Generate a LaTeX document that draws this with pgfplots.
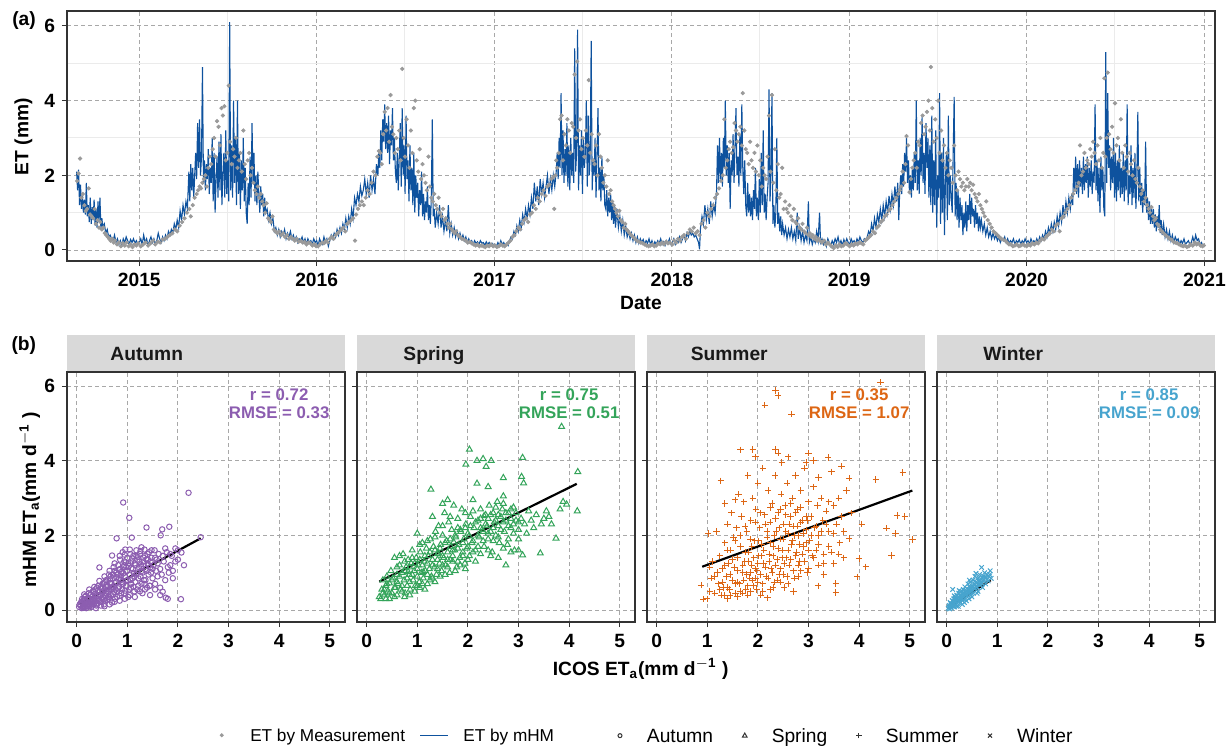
\documentclass[border=0pt]{standalone}
\usepackage{fontspec}
\setmainfont{Liberation Sans}
\usepackage{pgfplots}
\usepackage{pgfplotstable}
\pgfplotsset{compat=1.18}
\definecolor{mgrey}{HTML}{9A9A9A}
\definecolor{mhmblue}{HTML}{0E529E}
\definecolor{autumn}{HTML}{8C5DB0}
\definecolor{spring}{HTML}{34A45A}
\definecolor{summer}{HTML}{DD6614}
\definecolor{winter}{HTML}{47A4CE}
\definecolor{stripgrey}{HTML}{D9D9D9}
\definecolor{gridgrey}{HTML}{A8A8A8}
\definecolor{minorgrey}{HTML}{EBEBEB}
\definecolor{framegrey}{HTML}{333333}

% mHM simulated ET, x = days since 2015-01-01
\pgfplotstableread[row sep=\\]{
d v\\
-129 2.10\\ -127 1.60\\ -125 2.15\\ -123 1.20\\ -121 1.75\\ -119 1.10\\ -117 1.45\\ -115 1.00\\ -113 1.35\\ -111 0.95\\
-109 1.80\\ -107 0.90\\ -105 1.20\\ -103 0.75\\ -101 1.40\\ -99 0.70\\ -97 1.15\\ -95 0.80\\ -93 1.35\\ -91 0.65\\
-89 1.10\\ -87 0.60\\ -85 1.30\\ -83 0.75\\ -81 1.40\\ -79 0.55\\ -77 0.85\\ -75 0.60\\ -72 0.70\\ -69 0.45\\
-66 0.55\\ -63 0.35\\ -60 0.40\\ -57 0.30\\ -54 0.25\\ -51 0.40\\ -48 0.20\\ -45 0.30\\ -42 0.15\\ -39 0.25\\
-36 0.12\\ -33 0.30\\ -30 0.20\\ -27 0.35\\ -24 0.25\\ -21 0.15\\ -18 0.28\\ -15 0.20\\ -12 0.30\\ -9 0.18\\ -6 0.25\\ -3 0.15\\ 0 0.20\\
3 0.30\\ 6 0.15\\ 9 0.40\\ 12 0.20\\ 15 0.30\\ 18 0.12\\ 21 0.25\\ 24 0.35\\ 27 0.20\\ 30 0.30\\ 33 0.15\\ 36 0.25\\
39 0.45\\ 42 0.30\\ 45 0.20\\ 48 0.35\\ 51 0.25\\ 54 0.40\\ 57 0.30\\ 60 0.50\\ 63 0.40\\ 66 0.55\\ 69 0.45\\ 72 0.70\\
75 0.55\\ 78 0.80\\ 81 0.60\\ 84 1.05\\ 87 0.80\\ 90 1.20\\ 93 0.95\\ 96 1.30\\ 99 1.10\\ 102 2.10\\ 104 1.30\\ 106 2.30\\
108 1.60\\ 110 2.20\\ 112 1.40\\ 114 2.00\\ 116 2.60\\ 118 1.90\\ 120 3.40\\ 122 2.20\\ 124 3.50\\ 126 2.00\\ 128 2.50\\
130 4.90\\ 132 1.80\\ 134 2.40\\ 136 1.60\\ 138 2.30\\ 140 1.90\\ 142 2.70\\ 144 1.50\\ 146 2.20\\ 148 1.80\\ 150 3.00\\
152 1.30\\ 154 2.60\\ 156 1.00\\ 158 1.90\\ 160 2.50\\ 162 1.40\\ 164 2.90\\ 166 1.60\\ 168 3.10\\ 170 1.20\\ 172 2.00\\
174 2.60\\ 176 1.40\\ 178 3.20\\ 180 1.50\\ 182 2.40\\ 184 1.30\\ 186 6.10\\ 188 1.60\\ 190 2.80\\ 192 1.40\\ 194 4.00\\
196 1.80\\ 198 3.00\\ 200 1.20\\ 202 4.00\\ 204 1.50\\ 206 2.60\\ 208 1.10\\ 210 2.40\\ 212 1.60\\ 214 3.00\\ 216 1.30\\
218 2.20\\ 220 1.00\\ 222 0.70\\ 224 1.80\\ 226 1.20\\ 228 2.50\\ 230 1.40\\ 232 3.40\\ 234 1.80\\ 236 2.60\\ 238 1.30\\
240 2.00\\ 242 1.20\\ 244 2.10\\ 246 1.50\\ 248 1.00\\ 250 1.70\\ 252 1.20\\ 254 1.50\\ 256 0.90\\ 258 1.40\\ 260 1.00\\
263 1.10\\ 266 0.80\\ 269 1.00\\ 272 0.70\\ 275 0.85\\ 278 0.50\\ 281 0.60\\ 284 0.40\\ 287 0.55\\ 290 0.35\\ 293 0.50\\
296 0.40\\ 299 0.55\\ 302 0.30\\ 305 0.45\\ 308 0.35\\ 311 0.50\\ 314 0.30\\ 317 0.40\\ 320 0.25\\ 323 0.35\\ 326 0.20\\
329 0.30\\ 332 0.25\\ 335 0.35\\ 338 0.20\\ 341 0.30\\ 344 0.15\\ 347 0.30\\ 350 0.20\\ 353 0.25\\ 356 0.15\\ 359 0.30\\ 362 0.20\\ 365 0.25\\
368 0.10\\ 371 0.30\\ 374 0.20\\ 377 0.15\\ 380 0.35\\ 383 0.20\\ 386 0.30\\ 389 0.10\\ 392 0.25\\ 395 0.40\\ 398 0.30\\
401 0.45\\ 404 0.35\\ 407 0.55\\ 410 0.40\\ 413 0.60\\ 416 0.45\\ 419 0.70\\ 422 0.55\\ 425 0.85\\ 428 0.60\\ 431 0.90\\
434 0.70\\ 437 1.10\\ 440 0.85\\ 443 1.40\\ 446 1.20\\ 449 1.50\\ 452 1.30\\ 455 1.70\\ 458 1.45\\ 461 1.60\\ 464 1.90\\
467 1.50\\ 470 1.80\\ 473 1.40\\ 476 2.00\\ 479 1.60\\ 482 1.90\\ 485 1.50\\ 488 2.30\\ 491 2.00\\ 493 2.60\\ 495 2.20\\
497 3.20\\ 499 2.40\\ 501 3.50\\ 503 2.90\\ 505 3.90\\ 507 2.70\\ 509 3.40\\ 511 2.60\\ 513 3.60\\ 515 2.30\\ 517 3.20\\
519 2.80\\ 521 3.80\\ 523 2.40\\ 525 3.00\\ 527 2.10\\ 529 1.80\\ 531 2.60\\ 533 1.60\\ 535 2.50\\ 537 3.40\\ 539 1.70\\
541 3.80\\ 543 2.00\\ 545 2.80\\ 547 1.50\\ 549 3.60\\ 551 1.90\\ 553 2.40\\ 555 1.30\\ 557 2.80\\ 559 1.60\\ 561 2.20\\
563 1.20\\ 565 2.60\\ 567 1.00\\ 569 2.00\\ 571 1.40\\ 573 1.80\\ 575 0.90\\ 577 1.60\\ 579 1.20\\ 581 2.10\\ 583 0.90\\
585 1.50\\ 587 0.80\\ 589 1.30\\ 591 1.00\\ 593 1.70\\ 595 0.80\\ 597 1.20\\ 599 0.70\\ 601 1.40\\ 603 3.50\\ 605 0.90\\
607 1.10\\ 609 0.60\\ 612 1.00\\ 615 0.70\\ 618 1.20\\ 621 0.60\\ 624 0.90\\ 627 0.50\\ 630 0.80\\ 633 0.50\\ 636 1.20\\
639 0.45\\ 642 0.70\\ 645 0.40\\ 648 0.60\\ 651 0.35\\ 654 0.50\\ 657 0.30\\ 660 0.45\\ 663 0.30\\ 666 0.40\\ 669 0.25\\
672 0.35\\ 675 0.20\\ 678 0.30\\ 681 0.20\\ 684 0.25\\ 687 0.15\\ 690 0.25\\ 693 0.18\\ 696 0.22\\ 699 0.15\\ 702 0.25\\
705 0.18\\ 708 0.20\\ 711 0.12\\ 714 0.22\\ 717 0.15\\ 720 0.20\\ 723 0.12\\ 726 0.18\\ 729 0.14\\
732 0.15\\ 735 0.10\\ 738 0.20\\ 741 0.12\\ 744 0.25\\ 747 0.15\\ 750 0.20\\ 753 0.10\\ 756 0.18\\ 759 0.12\\ 762 0.25\\
765 0.35\\ 768 0.30\\ 771 0.50\\ 774 0.40\\ 777 0.65\\ 780 0.50\\ 783 0.80\\ 786 0.60\\ 789 0.95\\ 792 0.75\\ 795 1.10\\
798 0.85\\ 801 1.20\\ 804 0.95\\ 807 1.40\\ 810 1.10\\ 813 1.80\\ 816 1.30\\ 819 1.70\\ 822 1.20\\ 825 1.90\\ 828 1.50\\
831 1.80\\ 834 1.40\\ 837 1.70\\ 840 2.00\\ 843 1.50\\ 846 1.90\\ 849 1.60\\ 852 2.00\\ 855 1.70\\ 858 2.10\\ 860 2.60\\
862 1.90\\ 864 3.00\\ 866 2.20\\ 868 4.20\\ 870 2.00\\ 872 3.20\\ 874 1.80\\ 876 2.70\\ 878 2.00\\ 880 3.40\\ 882 1.70\\
884 2.80\\ 886 1.60\\ 888 3.00\\ 890 2.00\\ 892 2.60\\ 894 1.80\\ 896 5.40\\ 898 2.10\\ 900 2.60\\ 902 5.90\\ 904 1.60\\
906 2.80\\ 908 2.00\\ 910 3.20\\ 912 1.50\\ 914 3.00\\ 916 2.20\\ 918 2.60\\ 920 4.00\\ 922 1.70\\ 924 3.60\\ 926 2.00\\
928 2.60\\ 930 5.60\\ 932 1.60\\ 934 2.40\\ 936 2.00\\ 938 3.00\\ 940 1.40\\ 942 2.60\\ 944 3.80\\ 946 1.60\\ 948 2.20\\
950 1.30\\ 952 2.50\\ 954 1.60\\ 956 2.00\\ 958 1.20\\ 960 1.10\\ 962 1.60\\ 964 0.90\\ 966 1.40\\ 968 1.00\\ 970 1.50\\
972 0.80\\ 974 1.30\\ 976 0.70\\ 978 1.20\\ 980 0.60\\ 983 1.10\\ 986 0.60\\ 989 0.90\\ 992 0.50\\ 995 0.80\\ 998 0.40\\
1001 0.65\\ 1004 0.35\\ 1007 0.50\\ 1010 0.30\\ 1013 0.45\\ 1016 0.25\\ 1019 0.40\\ 1022 0.20\\ 1025 0.35\\ 1028 0.18\\
1031 0.30\\ 1034 0.20\\ 1037 0.28\\ 1040 0.15\\ 1043 0.25\\ 1046 0.18\\ 1049 0.30\\ 1052 0.15\\ 1055 0.25\\ 1058 0.12\\
1061 0.22\\ 1064 0.15\\ 1067 0.25\\ 1070 0.18\\ 1073 0.30\\ 1076 0.15\\ 1079 0.22\\ 1082 0.12\\ 1085 0.25\\ 1088 0.18\\ 1091 0.30\\ 1094 0.15\\
1097 0.20\\ 1100 0.30\\ 1103 0.15\\ 1106 0.25\\ 1109 0.20\\ 1112 0.35\\ 1115 0.20\\ 1118 0.30\\ 1121 0.40\\ 1124 0.25\\
1127 0.45\\ 1130 0.35\\ 1133 0.50\\ 1136 0.40\\ 1139 0.45\\ 1142 0.35\\ 1145 0.40\\ 1148 0.30\\ 1151 0.20\\ 1153 0.02\\
1155 0.60\\ 1158 0.90\\ 1161 0.70\\ 1164 1.20\\ 1167 0.80\\ 1170 1.10\\ 1173 0.70\\ 1176 1.30\\ 1179 0.90\\ 1182 1.20\\
1185 1.00\\ 1188 1.60\\ 1190 2.80\\ 1192 1.80\\ 1194 3.00\\ 1196 1.90\\ 1198 2.60\\ 1200 1.70\\ 1202 3.00\\ 1204 2.20\\
1206 4.00\\ 1208 2.00\\ 1210 2.80\\ 1212 1.80\\ 1214 2.60\\ 1216 1.10\\ 1218 2.40\\ 1220 2.00\\ 1222 3.10\\ 1224 1.80\\
1226 2.80\\ 1228 3.80\\ 1230 2.00\\ 1232 2.50\\ 1234 1.70\\ 1236 3.10\\ 1238 2.00\\ 1240 3.90\\ 1242 2.20\\ 1244 1.50\\
1246 2.40\\ 1248 1.20\\ 1250 0.90\\ 1252 1.80\\ 1254 1.00\\ 1256 1.50\\ 1258 0.90\\ 1260 1.40\\ 1262 0.80\\ 1264 1.60\\
1266 1.10\\ 1268 2.20\\ 1270 0.90\\ 1272 1.40\\ 1274 0.80\\ 1276 1.90\\ 1278 1.00\\ 1280 2.60\\ 1282 1.20\\ 1284 3.20\\
1286 1.00\\ 1288 1.50\\ 1290 0.80\\ 1292 1.40\\ 1294 1.80\\ 1296 4.30\\ 1298 1.30\\ 1300 2.00\\ 1302 4.20\\ 1304 0.70\\
1306 1.20\\ 1308 0.60\\ 1310 1.00\\ 1312 3.00\\ 1314 0.70\\ 1316 1.00\\ 1318 0.50\\ 1320 0.90\\ 1322 0.40\\ 1324 0.70\\
1327 0.40\\ 1330 0.60\\ 1333 0.30\\ 1336 0.55\\ 1339 0.35\\ 1342 0.60\\ 1345 0.30\\ 1348 0.50\\ 1351 0.25\\ 1354 1.00\\
1356 0.30\\ 1359 0.60\\ 1362 0.25\\ 1365 0.50\\ 1368 0.20\\ 1371 0.40\\ 1374 0.25\\ 1377 1.30\\ 1379 0.20\\ 1382 0.35\\
1385 0.15\\ 1388 0.30\\ 1391 0.20\\ 1394 0.50\\ 1397 0.25\\ 1400 1.00\\ 1402 0.20\\ 1405 0.30\\ 1408 0.15\\ 1411 0.25\\
1414 0.10\\ 1417 0.30\\ 1420 0.20\\ 1423 0.10\\ 1426 0.25\\ 1429 0.15\\ 1432 0.30\\ 1435 0.20\\ 1438 0.35\\ 1441 0.15\\
1444 0.25\\ 1447 0.12\\ 1450 0.28\\ 1453 0.18\\ 1456 0.30\\ 1459 0.20\\
1462 0.15\\ 1465 0.30\\ 1468 0.20\\ 1471 0.25\\ 1474 0.15\\ 1477 0.30\\ 1480 0.20\\ 1483 0.35\\ 1486 0.25\\ 1489 0.20\\
1492 0.30\\ 1495 0.25\\ 1498 0.35\\ 1501 0.50\\ 1504 0.40\\ 1507 0.70\\ 1510 0.50\\ 1513 0.85\\ 1516 0.60\\ 1519 0.95\\
1522 0.75\\ 1525 1.10\\ 1528 0.80\\ 1531 1.20\\ 1534 0.90\\ 1537 1.30\\ 1540 1.00\\ 1543 1.45\\ 1546 1.10\\ 1549 1.50\\
1552 1.20\\ 1555 1.70\\ 1558 1.30\\ 1561 1.80\\ 1563 0.80\\ 1565 1.60\\ 1567 2.00\\ 1569 1.50\\ 1571 2.30\\ 1573 1.70\\
1575 2.60\\ 1577 2.10\\ 1579 3.00\\ 1581 1.80\\ 1583 2.40\\ 1585 1.50\\ 1587 2.00\\ 1589 1.40\\ 1591 2.20\\ 1593 1.60\\
1595 2.60\\ 1597 1.80\\ 1599 4.00\\ 1601 1.60\\ 1603 2.40\\ 1605 1.50\\ 1607 3.00\\ 1609 2.00\\ 1611 3.60\\ 1613 1.80\\
1615 2.60\\ 1617 1.50\\ 1619 3.40\\ 1621 2.20\\ 1623 3.00\\ 1625 1.40\\ 1627 2.80\\ 1629 1.20\\ 1631 3.60\\ 1633 1.00\\
1635 2.40\\ 1637 1.20\\ 1639 3.20\\ 1641 0.60\\ 1643 2.00\\ 1645 1.40\\ 1647 4.20\\ 1649 0.70\\ 1651 2.60\\ 1653 1.00\\
1655 3.00\\ 1657 0.40\\ 1659 1.80\\ 1661 2.60\\ 1663 0.80\\ 1665 3.60\\ 1667 1.20\\ 1669 2.00\\ 1671 1.40\\ 1673 1.00\\
1675 2.60\\ 1677 4.10\\ 1679 0.90\\ 1681 1.80\\ 1683 0.80\\ 1685 1.60\\ 1687 0.60\\ 1689 1.40\\ 1691 0.80\\ 1693 1.20\\
1695 0.40\\ 1697 1.00\\ 1699 0.60\\ 1701 1.30\\ 1703 0.50\\ 1705 1.20\\ 1707 0.80\\ 1709 1.50\\ 1711 0.70\\ 1713 1.40\\
1715 0.90\\ 1717 1.10\\ 1719 0.60\\ 1721 1.20\\ 1723 0.70\\ 1725 1.00\\ 1727 0.50\\ 1729 0.90\\ 1731 0.60\\ 1733 0.80\\
1736 0.50\\ 1739 0.70\\ 1742 0.40\\ 1745 0.60\\ 1748 0.35\\ 1751 0.50\\ 1754 0.30\\ 1757 0.45\\ 1760 0.30\\ 1763 0.40\\
1766 0.25\\ 1769 0.35\\ 1772 0.20\\ 1775 0.30\\ 1778 0.25\\ 1781 0.35\\ 1784 0.20\\ 1787 0.30\\ 1790 0.18\\ 1793 0.25\\
1796 0.20\\ 1799 0.30\\ 1802 0.15\\ 1805 0.25\\ 1808 0.20\\ 1811 0.28\\ 1814 0.15\\ 1817 0.25\\ 1820 0.18\\ 1823 0.30\\
1826 0.20\\ 1829 0.25\\ 1832 0.15\\ 1835 0.30\\ 1838 0.20\\ 1841 0.25\\ 1844 0.18\\ 1847 0.30\\ 1850 0.20\\ 1853 0.35\\
1856 0.25\\ 1859 0.40\\ 1862 0.30\\ 1865 0.50\\ 1868 0.35\\ 1871 0.60\\ 1874 0.45\\ 1877 0.70\\ 1880 0.50\\ 1883 0.75\\
1886 0.55\\ 1889 0.90\\ 1892 0.65\\ 1895 1.00\\ 1898 0.75\\ 1901 1.20\\ 1904 0.85\\ 1907 1.30\\ 1910 1.00\\ 1913 1.40\\
1916 1.10\\ 1919 1.50\\ 1921 1.20\\ 1923 2.20\\ 1925 1.60\\ 1927 2.50\\ 1929 1.50\\ 1931 2.30\\ 1933 1.40\\ 1935 2.40\\
1937 1.70\\ 1939 2.20\\ 1941 1.50\\ 1943 2.50\\ 1945 1.60\\ 1947 2.30\\ 1949 1.80\\ 1951 2.50\\ 1953 1.40\\ 1955 2.20\\
1957 1.70\\ 1959 2.40\\ 1961 1.50\\ 1963 2.10\\ 1965 1.80\\ 1967 3.90\\ 1969 1.60\\ 1971 2.40\\ 1973 1.30\\ 1975 2.20\\
1977 1.00\\ 1979 2.50\\ 1981 1.60\\ 1983 2.20\\ 1985 1.10\\ 1987 0.90\\ 1989 5.30\\ 1991 1.80\\ 1993 4.20\\ 1995 2.20\\
1997 2.80\\ 1999 1.60\\ 2001 2.50\\ 2003 1.80\\ 2005 3.00\\ 2007 1.40\\ 2009 2.60\\ 2011 1.30\\ 2013 2.40\\ 2015 1.60\\
2017 2.80\\ 2019 1.40\\ 2021 2.20\\ 2023 1.50\\ 2025 2.60\\ 2027 1.30\\ 2029 2.40\\ 2031 1.60\\ 2033 3.90\\ 2035 1.20\\
2037 2.00\\ 2039 1.50\\ 2041 2.80\\ 2043 1.20\\ 2045 2.20\\ 2047 1.40\\ 2049 2.60\\ 2051 1.10\\ 2053 2.00\\ 2055 3.70\\
2057 1.30\\ 2059 2.20\\ 2061 1.20\\ 2063 1.80\\ 2065 1.00\\ 2067 1.60\\ 2069 1.20\\ 2071 2.90\\ 2073 1.00\\ 2075 1.40\\
2077 0.80\\ 2079 1.30\\ 2081 0.70\\ 2083 1.10\\ 2085 0.70\\ 2087 1.10\\ 2089 0.60\\ 2091 0.95\\ 2093 0.50\\ 2095 0.90\\
2097 0.60\\ 2099 1.20\\ 2101 0.45\\ 2103 0.80\\ 2105 0.40\\ 2108 0.70\\ 2111 0.35\\ 2114 0.55\\ 2117 0.30\\ 2120 0.50\\
2123 0.25\\ 2126 0.40\\ 2129 0.20\\ 2132 0.35\\ 2135 0.25\\ 2138 0.30\\ 2141 0.15\\ 2144 0.25\\ 2147 0.18\\ 2150 0.30\\
2153 0.15\\ 2156 0.20\\ 2159 0.25\\ 2162 0.15\\ 2165 0.20\\ 2168 0.35\\ 2171 0.20\\ 2174 0.40\\ 2177 0.25\\ 2180 0.30\\
2183 0.15\\ 2186 0.20\\ 2189 0.10\\ 2191 0.15\\
}\mhmtab

% measured ET
\pgfplotstableread[row sep=\\]{
d v\\
-128 1.85\\ -125 2.05\\ -122 2.45\\ -119 1.40\\ -116 1.50\\ -113 1.20\\ -110 1.05\\ -107 1.10\\ -104 1.65\\ -101 0.95\\
-98 0.90\\ -95 0.85\\ -92 1.10\\ -89 0.70\\ -86 0.80\\ -83 0.60\\ -80 0.75\\ -77 0.55\\ -74 0.60\\ -71 0.45\\ -68 0.40\\
-65 0.35\\ -62 0.30\\ -59 0.25\\ -56 0.30\\ -53 0.20\\ -50 0.25\\ -46 0.15\\ -42 0.20\\ -38 0.10\\ -34 0.18\\ -30 0.12\\
-26 0.20\\ -22 0.10\\ -18 0.15\\ -14 0.08\\ -10 0.15\\ -6 0.12\\ -2 0.18\\
3 0.10\\ 8 0.15\\ 13 0.20\\ 18 0.12\\ 23 0.18\\ 28 0.25\\ 33 0.15\\ 38 0.22\\ 43 0.20\\ 48 0.28\\ 53 0.30\\ 58 0.35\\
63 0.40\\ 68 0.45\\ 73 0.55\\ 78 0.50\\ 83 0.65\\ 88 0.75\\ 93 0.85\\ 98 1.00\\ 103 1.10\\ 106 0.90\\ 110 1.20\\ 114 1.40\\
118 1.50\\ 121 1.60\\ 124 1.70\\ 127 1.65\\ 130 1.80\\ 133 1.90\\ 136 2.00\\ 139 1.70\\ 142 2.20\\ 145 2.50\\ 148 2.30\\
151 2.70\\ 154 3.00\\ 157 2.50\\ 160 3.45\\ 163 3.30\\ 166 2.80\\ 169 3.80\\ 172 3.60\\ 175 3.85\\ 178 2.40\\ 181 2.60\\
184 4.40\\ 187 2.90\\ 190 2.30\\ 193 2.70\\ 196 2.50\\ 199 3.00\\ 202 2.20\\ 205 2.40\\ 208 2.60\\ 211 2.10\\ 214 3.20\\
217 2.30\\ 220 1.90\\ 223 2.40\\ 226 2.60\\ 229 2.00\\ 232 2.20\\ 235 1.80\\ 238 1.60\\ 241 1.50\\ 244 1.70\\ 247 1.40\\
250 1.50\\ 253 1.30\\ 256 1.20\\ 259 1.00\\ 262 1.25\\ 265 0.85\\ 268 0.80\\ 271 0.75\\ 274 0.90\\ 277 0.55\\ 280 0.50\\
284 0.45\\ 288 0.50\\ 292 0.40\\ 296 0.45\\ 300 0.35\\ 304 0.40\\ 308 0.30\\ 312 0.35\\ 316 0.30\\ 320 0.25\\ 324 0.30\\
328 0.22\\ 332 0.25\\ 336 0.20\\ 340 0.22\\ 344 0.15\\ 348 0.20\\ 352 0.18\\ 356 0.12\\ 360 0.15\\ 364 0.10\\
368 0.10\\ 372 0.15\\ 376 0.20\\ 380 0.18\\ 384 0.25\\ 388 0.20\\ 392 0.30\\ 396 0.35\\ 400 0.30\\ 404 0.40\\ 408 0.45\\
412 0.50\\ 416 0.55\\ 420 0.60\\ 424 0.50\\ 428 0.70\\ 432 0.75\\ 436 0.80\\ 440 0.85\\ 444 0.25\\ 446 0.95\\ 450 1.10\\
454 1.20\\ 458 1.30\\ 462 1.20\\ 466 1.40\\ 470 1.60\\ 474 1.50\\ 478 1.80\\ 482 2.10\\ 486 2.00\\ 490 2.50\\ 493 2.65\\
496 2.60\\ 499 2.30\\ 502 3.10\\ 505 3.70\\ 508 3.20\\ 511 3.80\\ 514 2.90\\ 517 4.15\\ 520 3.30\\ 523 3.10\\ 526 2.60\\
529 3.00\\ 532 2.70\\ 535 3.20\\ 538 2.40\\ 541 4.85\\ 544 3.00\\ 547 2.50\\ 550 3.50\\ 553 2.80\\ 556 2.20\\ 559 3.20\\
562 2.60\\ 565 3.80\\ 568 4.00\\ 571 2.40\\ 574 2.10\\ 577 2.70\\ 580 1.90\\ 583 2.30\\ 586 2.00\\ 589 1.80\\ 592 1.60\\
595 2.50\\ 598 1.70\\ 601 1.40\\ 604 1.30\\ 607 1.50\\ 610 1.20\\ 613 1.10\\ 616 1.40\\ 619 1.00\\ 622 0.90\\ 625 1.10\\
628 0.80\\ 631 0.85\\ 634 0.70\\ 637 0.60\\ 640 0.70\\ 643 0.55\\ 646 0.50\\ 649 0.45\\ 652 0.50\\ 656 0.40\\ 660 0.35\\
664 0.30\\ 668 0.28\\ 672 0.25\\ 676 0.20\\ 680 0.22\\ 684 0.18\\ 688 0.15\\ 692 0.12\\ 696 0.15\\ 700 0.10\\ 704 0.12\\
708 0.10\\ 712 0.08\\ 716 0.12\\ 720 0.10\\ 724 0.15\\ 728 0.10\\
732 0.12\\ 736 0.08\\ 740 0.10\\ 744 0.15\\ 748 0.12\\ 752 0.10\\ 756 0.15\\ 760 0.20\\ 764 0.25\\ 768 0.35\\ 772 0.40\\
776 0.50\\ 780 0.60\\ 784 0.55\\ 788 0.70\\ 792 0.80\\ 796 0.85\\ 800 0.75\\ 804 0.95\\ 808 1.00\\ 812 1.20\\ 816 1.10\\
820 1.40\\ 824 1.30\\ 828 1.50\\ 832 1.60\\ 836 1.45\\ 840 1.70\\ 844 1.75\\ 848 1.90\\ 852 1.95\\ 854 1.10\\ 856 2.00\\
858 2.40\\ 860 2.20\\ 863 2.60\\ 866 3.50\\ 869 3.60\\ 872 2.40\\ 875 3.10\\ 878 2.80\\ 881 3.50\\ 884 3.20\\ 887 2.60\\
890 3.40\\ 893 3.30\\ 896 4.70\\ 899 3.00\\ 901 5.05\\ 904 3.20\\ 907 3.50\\ 910 2.70\\ 913 3.00\\ 916 2.50\\ 919 3.20\\
922 2.80\\ 925 4.55\\ 928 2.60\\ 931 3.10\\ 934 2.40\\ 937 2.30\\ 940 2.80\\ 943 2.00\\ 946 3.10\\ 949 2.50\\ 952 2.20\\
955 1.80\\ 958 2.00\\ 961 1.70\\ 964 2.40\\ 967 1.50\\ 970 1.60\\ 973 1.30\\ 976 1.20\\ 979 1.10\\ 982 1.00\\ 985 0.90\\
988 1.05\\ 991 0.80\\ 994 0.75\\ 997 0.60\\ 1000 0.70\\ 1003 0.55\\ 1006 0.50\\ 1009 0.45\\ 1012 0.40\\ 1016 0.35\\
1020 0.30\\ 1024 0.25\\ 1028 0.22\\ 1032 0.20\\ 1036 0.18\\ 1040 0.15\\ 1044 0.12\\ 1048 0.10\\ 1052 0.12\\ 1056 0.15\\
1060 0.10\\ 1064 0.12\\ 1068 0.18\\ 1072 0.15\\ 1076 0.20\\ 1080 0.15\\ 1084 0.22\\ 1088 0.18\\ 1092 0.20\\
1097 0.15\\ 1101 0.25\\ 1105 0.20\\ 1109 0.30\\ 1113 0.25\\ 1117 0.35\\ 1121 0.40\\ 1125 0.30\\ 1129 0.45\\ 1133 0.55\\
1137 0.50\\ 1141 0.60\\ 1145 0.45\\ 1149 0.50\\ 1153 0.40\\ 1157 0.70\\ 1161 0.80\\ 1165 0.60\\ 1169 1.00\\ 1173 0.90\\
1177 1.10\\ 1181 1.20\\ 1185 1.40\\ 1189 1.50\\ 1193 1.65\\ 1197 1.85\\ 1201 2.00\\ 1204 3.50\\ 1207 2.20\\ 1210 2.40\\
1213 2.70\\ 1216 2.90\\ 1219 2.60\\ 1222 2.75\\ 1225 3.40\\ 1228 3.20\\ 1231 2.90\\ 1234 3.10\\ 1237 3.30\\ 1240 2.80\\
1242 4.20\\ 1245 3.20\\ 1248 2.70\\ 1251 2.60\\ 1254 2.30\\ 1257 2.90\\ 1260 2.40\\ 1263 2.20\\ 1266 2.60\\ 1269 2.10\\
1272 2.80\\ 1275 2.00\\ 1278 2.40\\ 1281 1.70\\ 1284 2.20\\ 1287 2.00\\ 1290 1.90\\ 1293 2.50\\ 1296 3.60\\ 1299 2.10\\
1302 4.15\\ 1305 1.80\\ 1308 2.70\\ 1311 1.60\\ 1314 2.30\\ 1317 1.40\\ 1320 1.50\\ 1323 2.20\\ 1326 1.10\\ 1329 1.30\\
1332 1.10\\ 1335 1.00\\ 1338 1.20\\ 1341 0.90\\ 1344 0.80\\ 1347 1.10\\ 1350 0.75\\ 1353 0.70\\ 1356 0.85\\ 1359 0.60\\
1362 0.55\\ 1365 0.70\\ 1368 0.50\\ 1371 0.45\\ 1374 0.60\\ 1377 0.40\\ 1380 0.45\\ 1383 0.35\\ 1386 0.40\\ 1389 0.30\\
1392 0.35\\ 1395 0.25\\ 1398 0.30\\ 1401 0.25\\ 1405 0.20\\ 1409 0.25\\ 1413 0.15\\ 1417 0.20\\ 1421 0.15\\ 1425 0.10\\
1429 0.05\\ 1433 0.12\\ 1437 0.08\\ 1441 0.15\\ 1445 0.10\\ 1449 0.12\\ 1453 0.18\\ 1457 0.15\\
1462 0.10\\ 1466 0.15\\ 1470 0.12\\ 1474 0.18\\ 1478 0.15\\ 1482 0.20\\ 1486 0.18\\ 1490 0.15\\ 1494 0.25\\ 1498 0.30\\
1502 0.35\\ 1506 0.40\\ 1510 0.50\\ 1514 0.45\\ 1518 0.60\\ 1522 0.65\\ 1526 0.75\\ 1530 0.80\\ 1534 0.90\\ 1538 0.95\\
1542 1.05\\ 1546 1.10\\ 1550 1.20\\ 1554 1.30\\ 1558 1.40\\ 1562 1.50\\ 1565 1.60\\ 1568 1.70\\ 1571 2.10\\ 1574 1.80\\
1577 2.30\\ 1579 3.05\\ 1582 2.80\\ 1585 1.55\\ 1588 1.90\\ 1591 2.20\\ 1594 2.40\\ 1597 2.60\\ 1600 2.20\\ 1603 2.90\\
1606 2.80\\ 1609 3.40\\ 1612 3.60\\ 1615 3.10\\ 1618 3.30\\ 1621 3.70\\ 1624 4.00\\ 1627 3.20\\ 1629 4.90\\ 1632 3.80\\
1635 2.90\\ 1638 3.50\\ 1641 3.00\\ 1644 4.00\\ 1647 2.60\\ 1650 3.20\\ 1653 2.40\\ 1656 2.80\\ 1659 2.20\\ 1662 2.60\\
1665 2.00\\ 1668 2.40\\ 1671 2.20\\ 1674 1.80\\ 1677 2.80\\ 1680 2.00\\ 1683 1.60\\ 1686 2.10\\ 1689 1.90\\ 1692 1.70\\
1695 1.80\\ 1698 1.60\\ 1701 1.70\\ 1704 1.90\\ 1707 1.70\\ 1710 1.80\\ 1713 1.60\\ 1716 1.75\\ 1719 1.50\\ 1722 1.40\\
1725 1.30\\ 1728 1.50\\ 1731 1.20\\ 1734 1.10\\ 1737 1.00\\ 1740 0.90\\ 1743 1.30\\ 1746 0.80\\ 1750 0.70\\ 1754 0.60\\
1758 0.50\\ 1762 0.45\\ 1766 0.40\\ 1770 0.35\\ 1774 0.30\\ 1778 0.28\\ 1782 0.25\\ 1786 0.20\\ 1790 0.15\\ 1794 0.15\\
1798 0.10\\ 1802 0.12\\ 1806 0.15\\ 1810 0.10\\ 1814 0.12\\ 1818 0.15\\ 1822 0.12\\
1826 0.10\\ 1830 0.15\\ 1834 0.12\\ 1838 0.18\\ 1842 0.15\\ 1846 0.20\\ 1850 0.18\\ 1854 0.25\\ 1858 0.30\\ 1862 0.28\\
1866 0.35\\ 1870 0.40\\ 1874 0.45\\ 1878 0.55\\ 1882 0.50\\ 1886 0.65\\ 1890 0.70\\ 1894 0.50\\ 1898 0.85\\ 1902 0.90\\
1906 1.00\\ 1910 1.10\\ 1914 1.20\\ 1918 1.40\\ 1922 1.50\\ 1926 1.60\\ 1930 1.70\\ 1933 1.80\\ 1936 2.80\\ 1939 2.00\\
1942 2.10\\ 1945 2.60\\ 1948 2.20\\ 1951 2.40\\ 1954 2.30\\ 1957 2.70\\ 1960 2.50\\ 1963 2.90\\ 1966 2.60\\ 1969 2.30\\
1972 2.80\\ 1975 2.40\\ 1978 3.00\\ 1981 2.20\\ 1984 2.60\\ 1986 4.60\\ 1988 2.50\\ 1991 3.00\\ 1993 4.75\\ 1996 3.10\\
1999 2.70\\ 2002 3.30\\ 2005 2.60\\ 2008 3.93\\ 2011 2.80\\ 2014 3.00\\ 2017 2.40\\ 2020 3.50\\ 2023 2.60\\ 2026 2.20\\
2029 2.80\\ 2032 2.50\\ 2035 2.10\\ 2038 2.60\\ 2041 2.30\\ 2044 2.00\\ 2047 2.40\\ 2050 1.90\\ 2053 1.80\\ 2056 2.20\\
2059 1.70\\ 2062 1.50\\ 2065 1.60\\ 2068 1.30\\ 2071 1.40\\ 2074 1.20\\ 2077 1.10\\ 2080 1.00\\ 2083 1.15\\ 2086 0.90\\
2089 0.80\\ 2092 0.85\\ 2095 0.70\\ 2098 0.65\\ 2101 0.55\\ 2104 0.50\\ 2108 0.45\\ 2112 0.40\\ 2116 0.35\\ 2120 0.30\\
2124 0.28\\ 2128 0.22\\ 2132 0.20\\ 2136 0.18\\ 2140 0.15\\ 2144 0.12\\ 2148 0.10\\ 2152 0.12\\ 2156 0.08\\ 2160 0.10\\
2164 0.15\\ 2168 0.12\\ 2172 0.20\\ 2176 0.15\\ 2180 0.18\\ 2184 0.12\\ 2188 0.10\\ 2191 0.12\\
}\meastab

\pgfplotsset{
  basestyle/.style={
    scale only axis, anchor=north west,
    axis line style={draw=framegrey, line width=0.55pt},
    tick style={draw=framegrey, line width=0.5pt},
    tick align=outside, major tick length=2.5pt, minor tick length=0pt,
    tick pos=left,
    xmajorgrids, ymajorgrids,
    major grid style={draw=gridgrey, line width=0.45pt, dash pattern=on 2pt off 1.5pt},
    minor grid style={draw=minorgrey, line width=0.5pt},
    tick label style={font=\bfseries\fontsize{9.6}{11}\selectfont, text=black},
    /pgf/number format/assume math mode=true,
  },
  panel/.style={basestyle, width=139pt, height=125pt,
    xmin=-0.19, xmax=5.3, ymin=-0.321, ymax=6.375,
    xtick={0,1,2,3,4,5}, ytick={0,2,4,6}, clip=false},
  regline/.style={black, line width=1.1pt, forget plot},
  autumnpts/.style={only marks, mark=o, mark size=1.35pt, draw=autumn, line width=0.5pt, forget plot},
  springpts/.style={only marks, mark=triangle, mark size=1.7pt, draw=spring, line width=0.5pt, forget plot},
  summerpts/.style={only marks, mark=+, mark size=1.6pt, draw=summer, line width=0.5pt, forget plot},
  winterpts/.style={only marks, mark=x, mark size=1.6pt, draw=winter, line width=0.5pt, forget plot},
}
\tikzset{
  stats/.style={align=center, font=\bfseries\fontsize{8.4}{8.8}\selectfont},
  striplabel/.style={anchor=base west, font=\bfseries\fontsize{9.6}{11}\selectfont, text=black!90},
}

\begin{document}
\begin{tikzpicture}
\path[use as bounding box] (0pt,0pt) rectangle (613.5pt,-372.5pt);

% ---------------- (a) time series ----------------
\begin{axis}[basestyle, at={(33.5pt,-5.5pt)}, width=574pt, height=125pt,
  xmin=-148.8, xmax=2213.8, ymin=-0.295, ymax=6.40,
  xtick={0,365,731,1096,1461,1826,2192},
  xticklabels={2015,2016,2017,2018,2019,2020,2021},
  minor xtick={181,546,912,1277,1642,2007},
  ytick={0,2,4,6}, minor ytick={1,3,5},
  xminorgrids, yminorgrids,
  legend columns=-1, legend cell align=left,
  legend style={at={(0.1226,-1.902)}, anchor=west, draw=none, fill=none,
    inner sep=0pt, outer sep=0pt, font=\fontsize{8.6}{10}\selectfont,
    /tikz/every odd column/.style={column sep=7.25pt},
    /tikz/every even column/.style={column sep=7.15pt},
    nodes={inner sep=0pt, anchor=base west}},
]
\addplot[mhmblue, line width=0.55pt, forget plot] table[x=d, y=v] {\mhmtab};
\addplot[only marks, mark=*, color=mgrey, mark size=0.85pt, forget plot] table[x=d, y=v] {\meastab};
\addlegendimage{legend image code/.code={\path[draw=none, fill=none] (-7pt,1pt) rectangle (7pt,5pt); \fill[mgrey] (0pt,3pt) circle (0.8pt);}}
\addlegendentry{ET by Measurement}
\addlegendimage{legend image code/.code={\path[draw=none, fill=none] (-7pt,1pt) rectangle (7pt,5pt); \draw[mhmblue, line width=0.7pt] (-7pt,3pt) -- (7pt,3pt);}}
\addlegendentry{ET by mHM}
\end{axis}

% ---------------- (b) Autumn ----------------
\begin{axis}[panel, at={(33.5pt,-186pt)},
  legend columns=-1, legend cell align=left,
  legend style={at={(1.9388,-0.4584)}, anchor=west, draw=none, fill=none,
    inner sep=0pt, outer sep=0pt, font=\fontsize{9.6}{11}\selectfont,
    /tikz/every odd column/.style={column sep=6.5pt},
    /tikz/every even column/.style={column sep=8.8pt},
    nodes={inner sep=0pt, anchor=base west}},
]
\addplot[autumnpts] coordinates {
(0.05,0.08) (0.08,0.12) (0.10,0.05) (0.12,0.18) (0.14,0.10) (0.15,0.25) (0.17,0.08) (0.18,0.15) (0.20,0.30) (0.21,0.12)
(0.22,0.20) (0.24,0.45) (0.25,0.10) (0.26,0.28) (0.28,0.18) (0.30,0.35) (0.31,0.22) (0.32,0.50) (0.34,0.15) (0.35,0.30)
(0.36,0.42) (0.38,0.25) (0.40,0.60) (0.41,0.18) (0.42,0.38) (0.44,0.30) (0.45,1.14) (0.46,0.50) (0.48,0.22) (0.50,0.45)
(0.51,0.70) (0.52,0.35) (0.54,0.15) (0.55,0.55) (0.57,0.40) (0.58,0.80) (0.60,0.28) (0.61,0.62) (0.62,0.48) (0.64,0.95)
(0.65,0.35) (0.66,0.72) (0.68,0.55) (0.70,1.46) (0.70,0.20) (0.71,0.85) (0.72,0.42) (0.74,0.65) (0.75,1.05) (0.76,0.30)
(0.78,0.75) (0.79,1.92) (0.80,0.50) (0.81,0.95) (0.82,1.20) (0.84,0.62) (0.85,0.38) (0.86,1.35) (0.87,0.80) (0.88,1.02)
(0.90,0.55) (0.91,1.55) (0.92,2.88) (0.92,0.70) (0.93,1.15) (0.94,0.45) (0.95,0.90) (0.96,1.62) (0.97,1.28) (0.98,0.65)
(0.99,1.05) (1.00,1.40) (1.01,0.80) (1.02,0.35) (1.03,1.18) (1.04,2.47) (1.05,0.95) (1.06,1.50) (1.07,0.60) (1.08,1.30)
(1.09,1.94) (1.10,0.85) (1.11,1.10) (1.12,1.45) (1.14,0.50) (1.15,1.25) (1.16,0.75) (1.18,1.60) (1.19,1.00) (1.20,1.35)
(1.22,0.65) (1.23,1.15) (1.25,1.50) (1.26,0.90) (1.28,1.68) (1.29,1.05) (1.30,0.45) (1.32,1.30) (1.33,0.80) (1.35,1.45)
(1.36,1.10) (1.38,2.21) (1.39,0.60) (1.40,1.25) (1.42,0.95) (1.43,1.55) (1.45,0.40) (1.46,1.15) (1.48,1.40) (1.50,0.85)
(1.52,1.20) (1.54,1.60) (1.55,0.70) (1.57,1.05) (1.58,1.35) (1.60,0.90) (1.62,1.50) (1.65,1.10) (1.66,2.00) (1.68,0.95)
(1.69,2.16) (1.70,0.49) (1.72,1.30) (1.75,0.80) (1.76,0.33) (1.78,1.55) (1.80,0.30) (1.82,1.00) (1.83,2.23) (1.85,1.20)
(1.88,1.45) (1.90,0.85) (1.95,1.65) (2.00,1.35) (2.06,0.29) (2.07,1.54) (2.12,1.20) (2.21,3.14) (2.45,1.95) (0.06,0.15)
(0.09,0.22) (0.11,0.30) (0.13,0.06) (0.16,0.35) (0.19,0.05) (0.23,0.32) (0.27,0.40) (0.29,0.08) (0.33,0.26) (0.37,0.55)
(0.39,0.12) (0.43,0.65) (0.47,0.40) (0.49,0.58) (0.53,0.28) (0.56,0.75) (0.59,0.50) (0.63,0.30) (0.67,0.90) (0.69,0.60)
(0.73,1.15) (0.77,0.55) (0.83,1.08) (0.89,0.75) (0.94,1.30) (1.13,0.98) (1.21,1.42) (1.27,1.22) (1.34,0.70) (1.41,1.35) (1.47,1.00)
};
\addplot[autumnpts] coordinates {
(0.10,0.20) (0.12,0.08) (0.14,0.28) (0.16,0.14) (0.18,0.38) (0.20,0.22) (0.22,0.10) (0.24,0.30) (0.26,0.16) (0.28,0.42)
(0.30,0.12) (0.32,0.28) (0.34,0.48) (0.36,0.20) (0.38,0.35) (0.40,0.15) (0.42,0.52) (0.44,0.25) (0.46,0.38) (0.48,0.62)
(0.50,0.30) (0.52,0.50) (0.54,0.72) (0.56,0.25) (0.58,0.45) (0.60,0.68) (0.62,0.35) (0.64,0.55) (0.66,0.82) (0.68,0.40)
(0.70,0.62) (0.72,0.95) (0.74,0.48) (0.76,0.72) (0.78,1.00) (0.80,0.35) (0.82,0.58) (0.84,0.85) (0.86,1.10) (0.88,0.45)
(0.90,0.70) (0.92,0.98) (0.94,1.20) (0.96,0.52) (0.98,0.78) (1.00,1.05) (1.02,1.25) (1.04,0.55) (1.06,0.80) (1.08,1.12)
(1.10,1.38) (1.12,0.62) (1.14,0.90) (1.16,1.20) (1.18,1.45) (1.20,0.55) (1.22,0.85) (1.24,1.30) (1.26,1.58) (1.28,0.70)
(1.30,1.00) (1.32,1.40) (1.34,1.62) (1.36,0.80) (1.38,1.05) (1.40,1.50) (1.42,1.20) (1.44,0.65) (1.46,1.30) (1.48,1.60)
(1.50,1.10) (1.55,1.40) (1.60,1.25) (1.65,0.60) (1.70,1.45) (1.75,1.65) (1.80,1.15) (1.85,1.50) (1.90,1.05) (1.95,1.30)
(2.00,1.60) (0.15,0.42) (0.25,0.55) (0.35,0.62) (0.45,0.78) (0.55,0.90) (0.65,1.05) (0.75,1.25) (0.85,1.45) (0.95,1.48)
(1.05,1.62) (0.55,0.10) (0.65,0.15) (0.75,0.22) (0.85,0.25) (0.95,0.30) (1.05,0.40) (1.15,0.35) (1.25,0.50) (1.35,0.55)
(1.45,0.65) (1.55,0.55) (1.65,0.40) (0.38,0.05) (0.48,0.12) (0.58,0.62) (0.68,0.70) (0.78,0.88) (0.88,0.92) (0.98,1.15)
(1.08,0.70) (1.18,0.95) (1.28,1.15) (1.38,1.35)
};
\addplot[regline] coordinates {(0.07,0.17) (2.45,1.92)};
\node[stats, text=autumn] at (axis cs:4,5.525) {r = 0.72\\RMSE = 0.33};
\fill[stripgrey] ([yshift=0.3pt]rel axis cs:0,1) rectangle ([yshift=18.5pt]rel axis cs:1,1);
\node[striplabel] at ([xshift=18.2pt, yshift=5.65pt]rel axis cs:0,1) {Autumn};
\addlegendimage{legend image code/.code={\path[draw=none, fill=none] (-7pt,1pt) rectangle (7pt,5pt); \draw[framegrey, line width=0.5pt] (0pt,3.2pt) circle (1pt);}}
\addlegendentry{Autumn}
\addlegendimage{legend image code/.code={\path[draw=none, fill=none] (-7pt,1pt) rectangle (7pt,5pt); \draw[framegrey, line width=0.5pt] (0pt,4.5pt) -- (1.15pt,2.5pt) -- (-1.15pt,2.5pt) -- cycle;}}
\addlegendentry{Spring}
\addlegendimage{legend image code/.code={\path[draw=none, fill=none] (-7pt,1pt) rectangle (7pt,5pt); \draw[framegrey, line width=0.5pt] (-1.4pt,3.2pt) -- (1.4pt,3.2pt) (0pt,1.8pt) -- (0pt,4.6pt);}}
\addlegendentry{Summer}
\addlegendimage{legend image code/.code={\path[draw=none, fill=none] (-7pt,1pt) rectangle (7pt,5pt); \draw[framegrey, line width=0.5pt] (-1pt,2.2pt) -- (1pt,4.2pt) (-1pt,4.2pt) -- (1pt,2.2pt);}}
\addlegendentry{Winter}
\end{axis}

% ---------------- Spring ----------------
\begin{axis}[panel, at={(178.5pt,-186pt)}, yticklabels={}]
\addplot[springpts] coordinates {
(0.25,0.35) (0.28,0.30) (0.30,0.55) (0.32,0.80) (0.35,0.40) (0.38,0.65) (0.40,0.90) (0.42,0.50) (0.45,0.72) (0.48,1.05)
(0.50,0.45) (0.52,0.85) (0.55,1.40) (0.57,0.60) (0.60,0.95) (0.62,0.70) (0.65,1.20) (0.67,0.55) (0.70,1.00) (0.72,1.50)
(0.74,0.80) (0.76,0.45) (0.78,1.15) (0.80,0.65) (0.82,1.35) (0.84,0.95) (0.86,0.55) (0.88,1.25) (0.90,1.60) (0.92,0.80)
(0.94,1.05) (0.96,0.65) (0.98,1.40) (1.00,2.05) (1.00,0.90) (1.02,1.20) (1.04,0.75) (1.06,1.55) (1.08,1.00) (1.10,1.80)
(1.12,0.85) (1.14,1.30) (1.16,1.05) (1.18,1.65) (1.20,0.70) (1.22,1.45) (1.24,1.10) (1.26,1.90) (1.27,3.23) (1.28,0.90)
(1.30,1.35) (1.32,1.70) (1.34,1.15) (1.36,2.10) (1.38,0.95) (1.40,1.50) (1.42,2.25) (1.44,1.25) (1.46,1.75) (1.48,1.05)
(1.50,2.00) (1.52,1.40) (1.54,2.60) (1.56,1.20) (1.58,1.85) (1.60,1.55) (1.62,2.35) (1.64,1.00) (1.66,1.70) (1.68,2.15)
(1.70,1.30) (1.72,2.80) (1.74,1.60) (1.76,1.95) (1.78,1.15) (1.80,2.45) (1.82,1.75) (1.84,1.40) (1.86,2.10) (1.88,2.70)
(1.90,1.55) (1.92,1.90) (1.94,1.25) (1.96,3.90) (1.96,2.30) (1.98,1.65) (2.00,2.05) (2.03,4.30) (2.03,1.45) (2.05,2.50)
(2.08,1.80) (2.10,2.95) (2.12,2.20) (2.15,1.60) (2.18,3.39) (2.18,4.00) (2.20,2.40) (2.22,1.95) (2.25,2.70) (2.28,2.15)
(2.30,4.05) (2.32,1.70) (2.35,2.55) (2.36,3.84) (2.38,2.25) (2.40,1.90) (2.42,2.80) (2.45,2.10) (2.46,4.00) (2.48,1.55)
(2.50,2.60) (2.52,2.35) (2.55,2.00) (2.58,2.90) (2.60,2.25) (2.62,1.80) (2.65,2.50) (2.68,2.70) (2.70,3.54) (2.72,2.10)
(2.75,2.40) (2.78,1.75) (2.80,2.60) (2.85,2.20) (2.90,2.75) (2.92,1.60) (2.95,2.40) (3.00,1.60) (3.00,2.15) (3.05,2.45)
(3.06,3.57) (3.08,4.08) (3.08,1.47) (3.10,3.40) (3.12,2.30) (3.16,2.05) (3.20,2.65) (3.25,2.40) (3.30,2.20) (3.35,2.55)
(3.43,1.52) (3.45,2.30) (3.50,2.45) (3.55,2.65) (3.60,2.50) (3.65,2.30) (3.74,1.92) (3.82,2.70) (3.85,4.91) (3.88,2.90)
(3.95,2.83) (4.16,2.65) (4.17,3.70) (0.45,0.30) (0.60,0.40) (0.75,0.35) (0.85,0.75) (0.95,0.50) (1.05,0.60) (1.15,0.55)
(1.25,0.80) (1.35,0.75) (1.45,0.90) (1.55,0.95) (1.65,1.35) (1.75,1.05) (1.85,1.20) (1.95,1.10) (2.15,1.30) (2.25,1.50)
(2.45,1.45) (2.60,1.40) (2.75,1.20) (2.85,1.55) (2.40,3.30) (2.70,3.05) (1.50,2.85) (1.60,2.95) (1.30,2.50) (0.65,1.45)
};
\addplot[springpts] coordinates {
(0.35,0.55) (0.40,0.70) (0.45,0.45) (0.50,0.80) (0.55,0.60) (0.60,0.75) (0.65,0.90) (0.70,0.65) (0.75,1.05) (0.80,0.85)
(0.85,1.15) (0.90,0.95) (0.95,1.25) (1.00,1.10) (1.05,1.35) (1.10,1.20) (1.15,1.45) (1.20,1.25) (1.25,1.55) (1.30,1.20)
(1.35,1.60) (1.40,1.35) (1.45,1.65) (1.50,1.45) (1.55,1.80) (1.60,1.35) (1.65,1.90) (1.70,1.60) (1.75,2.00) (1.80,1.65)
(1.85,2.15) (1.90,1.80) (1.95,2.20) (2.00,1.70) (2.05,2.25) (2.10,1.85) (2.15,2.35) (2.20,2.00) (2.25,2.45) (2.30,2.10)
(2.35,2.30) (2.40,2.05) (2.45,2.55) (2.50,2.20) (2.55,2.40) (2.60,2.55) (2.65,2.15) (2.70,2.35) (2.75,2.60) (2.80,2.25)
(2.85,2.45) (2.90,2.30) (2.95,2.60) (3.00,2.35) (0.55,0.35) (0.70,0.50) (0.85,0.40) (1.00,0.65) (1.10,0.70) (1.20,0.95)
(1.30,0.85) (1.40,1.10) (1.50,1.20) (1.60,1.15) (1.70,1.45) (1.80,1.30) (1.90,1.45) (2.00,1.35) (2.10,1.55) (2.20,1.70)
(2.30,1.85) (2.40,1.60) (2.50,1.85) (2.60,1.95) (2.70,1.65) (2.80,1.90) (2.90,2.05) (3.00,1.90) (0.60,1.15) (0.75,1.30)
(0.90,1.40) (1.05,1.75) (1.20,1.85) (1.35,1.95) (1.50,2.25) (1.65,2.50) (1.80,2.20) (1.95,2.60) (2.10,2.65) (2.25,2.20)
(2.40,2.45) (2.55,2.75) (2.70,2.85) (2.85,2.70) (1.12,1.02) (1.42,1.52) (1.72,1.82) (2.02,1.98) (2.32,2.52) (0.82,1.02)
(0.32,0.45) (0.38,0.30)
};
\addplot[regline] coordinates {(0.25,0.76) (4.15,3.38)};
\node[stats, text=spring] at (axis cs:4,5.525) {r = 0.75\\RMSE = 0.51};
\fill[stripgrey] ([yshift=0.3pt]rel axis cs:0,1) rectangle ([yshift=18.5pt]rel axis cs:1,1);
\node[striplabel] at ([xshift=19.7pt, yshift=5.65pt]rel axis cs:0,1) {Spring};
\end{axis}

% ---------------- Summer ----------------
\begin{axis}[panel, at={(323.5pt,-186pt)}, yticklabels={}]
\addplot[summerpts] coordinates {
(0.88,0.67) (0.92,0.29) (1.00,0.30) (1.02,2.05) (1.05,0.50) (1.08,0.85) (1.10,1.30) (1.15,0.45) (1.18,2.10) (1.20,1.00)
(1.22,0.70) (1.25,1.45) (1.27,3.46) (1.28,0.40) (1.30,1.10) (1.32,0.60) (1.35,1.80) (1.38,0.90) (1.40,2.30) (1.42,1.25)
(1.44,0.55) (1.46,1.60) (1.48,2.60) (1.50,0.80) (1.52,1.95) (1.54,1.15) (1.56,0.45) (1.58,2.20) (1.60,1.40) (1.62,3.10)
(1.64,0.70) (1.66,4.29) (1.66,1.70) (1.68,2.50) (1.70,1.00) (1.72,2.90) (1.74,1.30) (1.76,0.55) (1.78,2.10) (1.80,3.60)
(1.82,1.55) (1.84,0.85) (1.86,2.40) (1.88,1.20) (1.90,4.30) (1.90,3.00) (1.92,0.65) (1.94,1.85) (1.95,4.10) (1.96,2.70)
(1.98,1.05) (2.00,3.40) (2.02,1.45) (2.04,2.20) (2.06,0.40) (2.08,1.75) (2.10,3.80) (2.12,1.25) (2.14,5.49) (2.14,2.55)
(2.16,0.90) (2.18,1.95) (2.19,0.33) (2.20,3.20) (2.22,1.50) (2.24,2.35) (2.26,1.10) (2.28,2.85) (2.30,1.70) (2.32,0.75)
(2.34,3.60) (2.35,5.88) (2.35,4.30) (2.36,2.10) (2.38,1.35) (2.40,5.75) (2.40,4.20) (2.40,2.60) (2.42,0.95) (2.44,1.90)
(2.46,3.10) (2.47,3.95) (2.48,1.60) (2.50,2.30) (2.52,0.60) (2.54,2.80) (2.56,1.40) (2.58,3.40) (2.60,2.05) (2.62,1.20)
(2.64,2.50) (2.66,5.25) (2.66,1.75) (2.68,3.00) (2.70,2.25) (2.72,0.85) (2.74,3.60) (2.76,1.55) (2.78,2.70) (2.80,2.00)
(2.82,1.30) (2.85,3.20) (2.88,2.40) (2.90,1.70) (2.92,3.80) (2.95,3.95) (2.95,2.15) (2.98,1.00) (3.00,4.20) (3.00,2.90)
(3.02,1.85) (3.05,2.50) (3.08,1.45) (3.10,4.00) (3.10,3.30) (3.12,2.20) (3.15,1.60) (3.18,2.80) (3.19,0.65) (3.20,2.00)
(3.25,3.00) (3.28,2.40) (3.30,1.25) (3.35,2.65) (3.39,4.09) (3.40,2.10) (3.45,3.70) (3.45,1.55) (3.50,2.80) (3.54,0.47)
(3.54,0.71) (3.55,2.30) (3.60,3.00) (3.62,1.80) (3.65,2.50) (3.70,1.40) (3.75,3.20) (3.80,3.53) (3.80,1.92) (3.85,2.60)
(3.96,0.89) (4.00,1.38) (4.05,2.30) (4.13,1.16) (4.33,3.50) (4.42,6.10) (4.54,2.19) (4.64,1.46) (4.72,2.05) (4.75,2.53)
(4.86,3.68) (4.90,2.50) (5.05,1.89) (1.60,0.35) (1.85,0.50) (2.00,0.75) (2.25,0.55) (2.50,0.95) (2.70,0.50) (2.85,1.05)
(1.40,0.30) (1.70,0.45) (1.35,2.85) (1.55,2.95) (3.65,3.85) (3.20,3.55) (2.60,4.10)
};
\addplot[summerpts] coordinates {
(1.30,0.75) (1.35,1.20) (1.40,0.60) (1.45,0.95) (1.50,1.35) (1.55,0.70) (1.60,1.05) (1.65,0.50) (1.70,1.20) (1.72,0.80)
(1.75,1.55) (1.78,0.95) (1.80,0.65) (1.82,1.30) (1.85,1.00) (1.88,1.70) (1.90,0.80) (1.92,1.40) (1.95,1.10) (1.98,0.55)
(2.00,1.25) (2.02,1.85) (2.05,0.95) (2.08,1.45) (2.10,0.70) (2.12,1.60) (2.15,1.15) (2.18,2.10) (2.20,0.85) (2.22,1.30)
(2.25,1.80) (2.28,1.00) (2.30,1.45) (2.32,2.00) (2.35,1.20) (2.38,0.80) (2.40,1.65) (2.42,2.20) (2.45,1.10) (2.48,1.40)
(2.50,1.90) (2.52,1.25) (2.55,2.10) (2.58,0.90) (2.60,1.60) (2.62,2.30) (2.65,1.35) (2.68,1.85) (2.70,1.05) (2.72,2.00)
(2.75,1.45) (2.78,2.25) (2.80,1.20) (2.82,1.75) (2.85,2.35) (2.88,1.50) (2.90,2.05) (2.92,1.30) (2.95,1.80) (2.98,2.40)
(3.00,1.60) (3.05,2.00) (3.10,1.40) (3.15,2.25) (3.20,1.75) (3.25,2.10) (3.30,1.50) (3.35,2.30) (3.40,1.70) (3.50,2.05)
(1.40,1.60) (1.55,1.85) (1.65,2.00) (1.75,2.25) (1.85,1.90) (1.95,2.35) (2.05,2.60) (2.15,2.30) (2.25,2.75) (2.35,2.45)
(2.45,2.70) (2.55,2.55) (2.65,2.85) (2.75,2.60) (2.85,2.75) (2.95,2.50) (1.25,0.55) (1.45,0.40) (1.60,0.75) (1.80,0.40)
(1.95,0.85) (2.10,0.50) (2.30,0.60) (2.45,0.75) (2.60,0.70) (2.80,0.90) (3.00,1.10) (3.20,1.20) (1.15,0.90) (1.05,1.15)
(1.35,0.40) (3.60,1.50) (3.70,2.10) (3.40,2.90) (3.50,1.25) (3.30,0.95)
};
\addplot[regline] coordinates {(0.9,1.16) (5.05,3.2)};
\node[stats, text=summer] at (axis cs:4,5.525) {r = 0.35\\RMSE = 1.07};
\fill[stripgrey] ([yshift=0.3pt]rel axis cs:0,1) rectangle ([yshift=18.5pt]rel axis cs:1,1);
\node[striplabel] at ([xshift=18.4pt, yshift=5.65pt]rel axis cs:0,1) {Summer};
\end{axis}

% ---------------- Winter ----------------
\begin{axis}[panel, at={(468.5pt,-186pt)}, yticklabels={}]
\addplot[winterpts] coordinates {
(0.03,0.05) (0.05,0.12) (0.06,0.03) (0.07,0.20) (0.08,0.08) (0.09,0.15) (0.10,0.05) (0.11,0.25) (0.12,0.55) (0.12,0.12)
(0.13,0.18) (0.14,0.30) (0.15,0.08) (0.16,0.22) (0.17,0.35) (0.18,0.15) (0.19,0.28) (0.20,0.40) (0.21,0.18) (0.22,0.32)
(0.23,0.10) (0.24,0.45) (0.25,0.25) (0.26,0.38) (0.27,0.20) (0.28,0.50) (0.29,0.30) (0.30,0.42) (0.31,0.15) (0.32,0.35)
(0.33,0.55) (0.34,0.28) (0.35,0.45) (0.36,0.62) (0.37,0.33) (0.38,0.50) (0.39,0.25) (0.40,0.58) (0.41,0.40) (0.42,0.70)
(0.43,0.48) (0.44,0.30) (0.45,0.62) (0.46,0.52) (0.47,0.75) (0.48,0.40) (0.50,0.65) (0.51,0.55) (0.52,0.80) (0.53,0.45)
(0.55,0.70) (0.56,0.90) (0.57,0.58) (0.58,0.75) (0.60,0.62) (0.61,0.85) (0.62,0.50) (0.64,0.78) (0.65,0.95) (0.66,0.68)
(0.68,0.82) (0.69,1.14) (0.70,0.72) (0.71,0.60) (0.72,0.90) (0.74,0.80) (0.75,1.00) (0.77,0.70) (0.78,0.88) (0.80,0.95)
(0.82,0.78) (0.84,0.90) (0.86,1.05) (0.88,0.85) (0.20,0.10) (0.35,0.20) (0.50,0.35) (0.60,0.45) (0.15,0.38) (0.25,0.52)
(0.45,0.80) (0.58,0.98)
(0.05,0.08) (0.08,0.18) (0.10,0.12) (0.12,0.25) (0.14,0.15) (0.16,0.30) (0.18,0.22) (0.20,0.32) (0.22,0.25) (0.24,0.35)
(0.26,0.30) (0.28,0.38) (0.30,0.30) (0.32,0.45) (0.34,0.38) (0.36,0.48) (0.38,0.40) (0.40,0.50) (0.42,0.45) (0.44,0.55)
(0.46,0.48) (0.48,0.60) (0.50,0.52) (0.52,0.62) (0.54,0.58) (0.56,0.68) (0.58,0.62) (0.60,0.72) (0.62,0.68) (0.64,0.70)
(0.66,0.80) (0.68,0.72) (0.70,0.85) (0.72,0.78) (0.76,0.88) (0.80,0.82) (0.85,0.95)
};
\addplot[regline] coordinates {(0.06,0.10) (0.87,0.80)};
\node[stats, text=winter] at (axis cs:4,5.525) {r = 0.85\\RMSE = 0.09};
\fill[stripgrey] ([yshift=0.3pt]rel axis cs:0,1) rectangle ([yshift=18.5pt]rel axis cs:1,1);
\node[striplabel] at ([xshift=19.7pt, yshift=5.65pt]rel axis cs:0,1) {Winter};
\end{axis}

% ---------------- titles and labels ----------------
\node[font=\bfseries\fontsize{9.6}{11}\selectfont] at (12pt,-10.25pt) {(a)};
\node[font=\bfseries\fontsize{9.6}{11}\selectfont] at (11.9pt,-172.9pt) {(b)};
\node[font=\bfseries\fontsize{9.6}{11}\selectfont, rotate=90, anchor=base] at (14.2pt,-68.3pt) {ET (mm)};
\node[font=\bfseries\fontsize{9.6}{11}\selectfont, anchor=base] at (320.5pt,-154.7pt) {Date};
\node[font=\bfseries\fontsize{9.6}{11}\selectfont, rotate=90, anchor=base] at (18pt,-250pt) {mHM ET\textsubscript{a}(mm d\textsuperscript{$-$1} )};
\node[font=\bfseries\fontsize{9.6}{11}\selectfont, anchor=base] at (320.3pt,-337.5pt) {ICOS ET\textsubscript{a}(mm d\textsuperscript{$-$1} )};
\end{tikzpicture}
\end{document}
